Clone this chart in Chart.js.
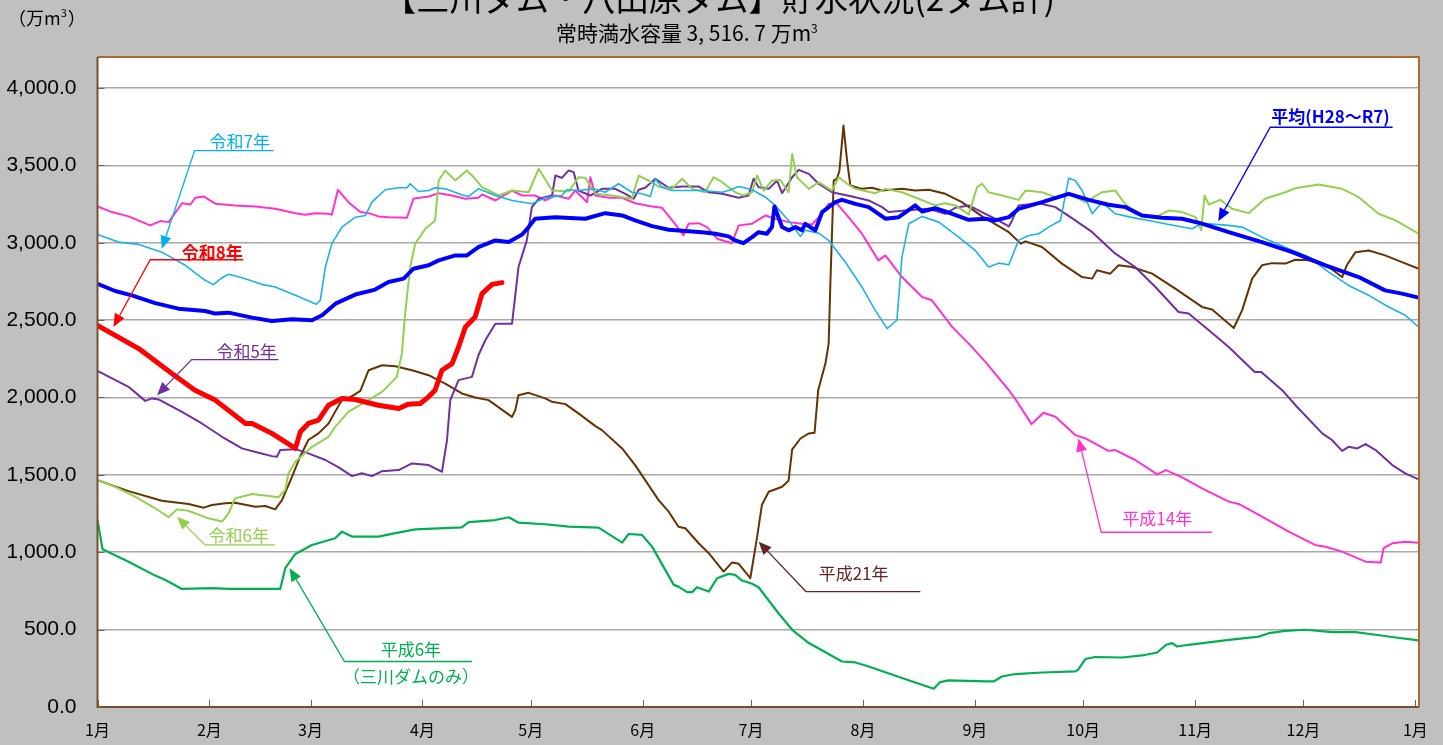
<!DOCTYPE html>
<html>
<head>
<meta charset="utf-8">
<script src="https://cdn.jsdelivr.net/npm/chart.js@4/dist/chart.umd.min.js"></script>
<style>
html,body{margin:0;padding:0;background:#c0c0c0;}
canvas{display:block;}
</style>
</head>
<body>
<canvas id="c" width="1443" height="745"></canvas>
<script>
// ---- category / tick data ----
const monthLabels = ['1月','2月','3月','4月','5月','6月','7月','8月','9月','10月','11月','12月','1月'];
const monthStartDays = [0,31,59,90,120,151,181,212,243,273,304,334,365];
const yTickValues = [0,500,1000,1500,2000,2500,3000,3500,4000];

// ---- series: [day of year, storage (万m3)] ----
const r8 = [[0,2466],[11.4,2316],[20.6,2155],[27,2047],[32.6,1983],[41,1832],[42.8,1832],[48.3,1768],[54.8,1671],[56.2,1778],[58.4,1832],[61.2,1853],[64,1950],[67.7,1994],[71.4,1987],[77.8,1950],[83.4,1929],[86.1,1957],[89.4,1961],[91.7,2004],[93.5,2047],[95.4,2176],[98.2,2219],[100,2326],[101.9,2455],[104.6,2520],[106.5,2671],[109.3,2731],[112,2742]];

const avg = [[0,2735],[4.9,2688],[9.5,2660],[16,2610],[22.4,2574],[29.8,2559],[32.6,2542],[36.3,2548],[42.8,2516],[48.3,2494],[53.9,2505],[59.4,2499],[62.2,2531],[65.9,2606],[71.4,2665],[76.9,2697],[80.6,2746],[84.8,2768],[87.5,2832],[91.7,2854],[94.5,2886],[99.1,2918],[102.3,2918],[105.5,2972],[110.2,3015],[113.9,3004],[117.6,3053],[119.4,3101],[121.2,3155],[126.8,3165],[135.1,3155],[140.6,3191],[145.3,3176],[148.9,3144],[153.6,3107],[158.2,3084],[162.8,3075],[167.4,3068],[171.1,3058],[174.8,3041],[176.6,3015],[178.9,2997],[181.3,3036],[183.1,3068],[185.4,3058],[186.8,3101],[187.5,3234],[189.6,3101],[191.4,3080],[193.3,3101],[195.1,3080],[196,3122],[198.8,3080],[200.7,3198],[204.3,3262],[206.2,3277],[209.9,3251],[213.6,3230],[218.2,3155],[221.9,3165],[226.5,3241],[228.4,3202],[232,3223],[236.7,3187],[241.3,3148],[245.9,3155],[248.6,3144],[252.4,3165],[255.1,3219],[261.6,3262],[269,3316],[274.5,3277],[280,3245],[284.7,3230],[289.3,3176],[294.8,3161],[300.4,3155],[305.9,3123],[313.3,3068],[322.5,3004],[330.9,2939],[340.1,2854],[349.3,2778],[356.6,2692],[361.3,2671],[365.9,2645]];

const r7 = [[0,3053],[5.8,3004],[11.4,2989],[17.8,2939],[24.3,2854],[29.8,2757],[32.1,2729],[34.5,2774],[36.3,2796],[40,2774],[45.5,2731],[49.2,2714],[54.8,2660],[60.6,2602],[61.7,2628],[63.1,2843],[64.9,2994],[67.7,3101],[71.4,3165],[74.2,3176],[76,3262],[79.7,3342],[83.4,3355],[85.7,3355],[86.6,3381],[88.9,3331],[91.7,3337],[93.5,3355],[96.3,3348],[100.9,3310],[102.8,3299],[105.5,3348],[110.2,3305],[114.8,3273],[120.3,3252],[124,3290],[128.6,3305],[130,3342],[133.2,3337],[137.4,3348],[140.6,3326],[144.3,3381],[148,3326],[150.8,3316],[153.1,3299],[154.5,3413],[156.3,3359],[159.1,3337],[167.4,3337],[173,3326],[174.8,3337],[177.6,3363],[181.3,3342],[185,3294],[187.7,3241],[191.4,3144],[194.7,3041],[196,3080],[199.7,3062],[202.5,3015],[207.1,2875],[211.7,2714],[215.4,2563],[218.7,2445],[221.4,2499],[222.8,2907],[224.7,3123],[228.4,3170],[233,3133],[238.5,3036],[243.1,2950],[246.8,2843],[249.6,2868],[252.4,2858],[255.1,3015],[257.9,3047],[260.7,3058],[263.4,3101],[266.7,3144],[269,3417],[270.8,3402],[272.7,3337],[275.5,3187],[278.2,3262],[281.9,3187],[287.4,3159],[291.1,3144],[296.7,3118],[303.2,3090],[305.9,3126],[313.3,3112],[317,3101],[322.5,3036],[329.9,2961],[335.5,2907],[341,2810],[346.5,2724],[352.1,2660],[357.6,2585],[362.2,2531],[365.9,2456]];

const r6 = [[0,1466],[4.9,1423],[10.4,1359],[16,1284],[19.7,1226],[22,1277],[25.2,1268],[30.7,1219],[34.5,1198],[36.3,1252],[38.1,1348],[42.8,1376],[47.4,1363],[50.1,1355],[52,1402],[52.9,1510],[54.8,1585],[59.4,1681],[64,1746],[65.8,1810],[69.5,1907],[74.2,1972],[78.8,2036],[82.9,2133],[84.3,2284],[85.2,2542],[86.6,2843],[88,2994],[90.8,3090],[93.5,3144],[94.5,3402],[96.3,3467],[99.1,3402],[102.3,3467],[104.6,3413],[106.5,3359],[111.1,3305],[114.8,3337],[119.4,3326],[122.2,3478],[125.9,3337],[130.5,3331],[133.2,3423],[135.1,3419],[137.9,3316],[142.5,3305],[148,3284],[149.9,3434],[152.6,3402],[155.4,3363],[159.1,3348],[161.9,3413],[164.7,3348],[168.3,3326],[170.6,3423],[173,3391],[176.6,3326],[178.9,3305],[181.3,3326],[182.7,3434],[184.5,3337],[186.8,3402],[189.1,3406],[191.4,3326],[192.4,3574],[193.7,3423],[197,3348],[199.7,3391],[203.4,3337],[205.3,3423],[207.6,3381],[209.9,3348],[215.4,3320],[218.2,3348],[222.8,3326],[227.4,3284],[232,3241],[234.8,3255],[237.6,3241],[241.3,3183],[243.6,3359],[245,3381],[246.8,3326],[250.5,3305],[255.1,3277],[257,3337],[261.6,3326],[265.3,3294],[269,3316],[273.6,3262],[278.2,3326],[281.9,3337],[284.2,3262],[287.4,3187],[293,3165],[296.7,3208],[300.4,3198],[304.1,3165],[305.7,3080],[306.6,3305],[307.8,3247],[311,3277],[314.2,3219],[318.8,3191],[323.4,3284],[329,3326],[331.7,3352],[338.2,3376],[344.7,3348],[349.3,3294],[354.8,3187],[359.5,3144],[365.9,3058]];

const r5 = [[0,2172],[8.6,2069],[13.2,1978],[15.1,1994],[16.9,1987],[23.4,1907],[28.9,1832],[34.5,1746],[40,1671],[44.6,1643],[48.3,1621],[49.7,1617],[50.6,1660],[54.8,1666],[58.4,1639],[63.1,1596],[66.8,1548],[70.5,1492],[73.2,1510],[76,1492],[78.8,1524],[83.4,1531],[87.1,1574],[91.7,1563],[95.4,1520],[96.8,1725],[97.7,1983],[100,2112],[103.7,2133],[105.5,2273],[107.4,2370],[110.2,2477],[114.8,2477],[116.6,2843],[118.9,3015],[120.3,3230],[122.2,3284],[124,3294],[125.9,3305],[126.8,3434],[128.6,3419],[130.5,3467],[131.9,3456],[133.2,3337],[136.5,3305],[139.7,3348],[143.4,3348],[146.2,3316],[148.5,3284],[149.9,3342],[151.7,3355],[154.5,3413],[158.2,3355],[161.9,3363],[166.5,3363],[169.3,3326],[173,3316],[177.6,3290],[180.3,3305],[181.7,3413],[183.1,3359],[185.9,3348],[188.2,3402],[189.6,3320],[192.4,3423],[194.2,3471],[197,3445],[199.7,3381],[203.4,3326],[209,3299],[213.6,3273],[217.3,3230],[219.1,3198],[223.7,3208],[230.2,3219],[234.8,3187],[237.6,3226],[241.3,3241],[245.9,3187],[248.6,3155],[252.4,3105],[253.3,3144],[255.1,3241],[260.7,3255],[265.3,3230],[270.8,3144],[275.5,3068],[281.9,2929],[287.4,2843],[293,2714],[299.4,2552],[302.2,2542],[307.8,2434],[313.3,2326],[320.5,2165],[322.3,2165],[328.1,2047],[331.8,1950],[339.2,1768],[341.9,1725],[344.7,1655],[346.5,1681],[348.9,1671],[351.2,1699],[354,1660],[358.6,1563],[362.2,1510],[365.9,1471]];

const h21 = [[0,1466],[8.6,1395],[17.8,1333],[25.2,1312],[29.4,1288],[31.7,1305],[35.4,1316],[38.1,1320],[43.7,1294],[46.5,1299],[49.2,1277],[51.1,1337],[53.9,1488],[56.1,1617],[58.4,1725],[61.2,1768],[64,1832],[65.8,1907],[67.7,1983],[69.5,1994],[72.8,2043],[75.1,2176],[78.8,2208],[82.5,2202],[87.1,2176],[91.7,2144],[96.3,2090],[100.9,2026],[104.6,2000],[108.3,1983],[114.8,1875],[115.7,1918],[116.6,2015],[119.4,2030],[124,1994],[125.9,1972],[129.6,1957],[133.2,1897],[137.9,1815],[139.7,1789],[145.3,1671],[148.9,1563],[155.4,1337],[158.2,1262],[160.9,1165],[162.8,1155],[166.5,1058],[169.3,994],[173.4,875],[175.7,933],[177.6,925],[180.8,832],[182.7,1101],[184,1305],[185.9,1391],[189.6,1423],[191.4,1462],[192.4,1665],[194.7,1735],[197,1768],[198.6,1772],[199.6,2047],[201.6,2219],[202.5,2348],[203,2757],[203.9,3402],[204.8,3413],[205.5,3467],[206.6,3757],[207.6,3531],[208.5,3370],[211.7,3348],[214.5,3355],[217.3,3337],[222.8,3348],[226.5,3337],[230.2,3342],[234.8,3316],[239.4,3262],[245,3170],[247.7,3133],[252.4,3068],[255.7,2994],[257,3009],[261.6,2972],[267.1,2865],[272.7,2778],[275.5,2768],[276.8,2822],[280.5,2800],[282.8,2854],[286.5,2843],[292.1,2800],[298.5,2703],[305.9,2585],[308.7,2568],[314.7,2449],[317,2563],[319.8,2768],[322.5,2854],[325.3,2868],[329,2865],[331.7,2890],[335.5,2886],[341,2843],[344.7,2778],[346,2854],[348.4,2939],[352.1,2950],[356.6,2918],[361.3,2875],[365.9,2832]];

const h14 = [[0,3234],[4,3198],[8.6,3170],[14.6,3112],[17.4,3140],[19.7,3133],[23.4,3255],[25.7,3247],[27.1,3290],[29.4,3299],[32.6,3252],[38.1,3241],[43.7,3234],[49.2,3219],[54.8,3191],[57.5,3181],[60.3,3191],[64,3187],[64.9,3181],[66.6,3342],[69.5,3262],[72.8,3198],[75.1,3191],[77.8,3170],[80.6,3165],[85.7,3161],[87.5,3284],[91.7,3299],[94.5,3320],[98.2,3305],[101.9,3284],[105.5,3290],[106.5,3312],[110.2,3273],[114.8,3337],[117.6,3305],[121.2,3305],[124,3273],[126.8,3305],[130.5,3284],[132.3,3337],[135.6,3262],[136.5,3423],[137.9,3305],[141.6,3290],[145.3,3290],[148.9,3255],[153.6,3234],[156.3,3226],[159.9,3123],[162.3,3047],[163.7,3123],[166.5,3126],[168.8,3101],[171.6,3026],[175.7,2997],[177.6,3112],[181.3,3123],[185,3176],[187.7,3155],[191.4,3133],[195.1,3123],[197.9,3118],[200.7,3187],[202.5,3252],[204.8,3252],[208,3165],[211.7,3058],[216.3,2886],[218.2,2918],[222.8,2778],[225.6,2714],[228.4,2649],[231.1,2628],[236.7,2456],[241.3,2348],[245.9,2230],[252.4,2047],[254.2,1990],[258.7,1828],[262,1901],[265.3,1875],[270.8,1757],[273.6,1735],[280,1655],[281.9,1660],[287.4,1596],[293.5,1503],[295.9,1531],[300.4,1484],[305.9,1413],[313.3,1327],[316.1,1312],[322.5,1230],[329.9,1133],[337.2,1047],[340.1,1036],[344.7,1004],[351.2,939],[355.4,933],[356.2,1026],[358.6,1058],[362.2,1068],[365.9,1062]];

const h6 = [[0,1208],[1.4,1019],[8.6,939],[16,849],[18.8,821],[23.4,763],[31.7,768],[36.3,763],[50.6,763],[52,897],[54.8,989],[59.4,1047],[65.8,1090],[67.7,1133],[70.5,1101],[77.8,1101],[82.5,1123],[88,1148],[100.9,1161],[102.8,1194],[110.2,1208],[113.9,1226],[116.6,1191],[124,1181],[130.5,1165],[138.8,1159],[145.3,1062],[147.1,1118],[150.8,1112],[153.6,1036],[159.6,789],[160.9,778],[163.3,742],[164.7,742],[166,774],[169.3,746],[171.6,832],[174.8,860],[176.6,854],[178.5,817],[181.3,796],[183.1,774],[188.6,606],[192.4,499],[197,413],[206.2,294],[209.9,288],[213.6,262],[222.8,187],[231.6,118],[233.4,161],[235.7,172],[245.9,165],[248.2,165],[250.5,197],[254.2,213],[261.6,223],[270.8,230],[271.6,241],[273.6,310],[276.3,323],[283.8,320],[289.3,333],[293.5,352],[296,402],[297.6,413],[299,391],[302.2,402],[307.8,417],[313.3,434],[321.6,455],[324.4,477],[329,492],[334.5,499],[341.9,484],[348.4,484],[354,467],[359.5,449],[365.9,430]];

// ---- label callouts: [text lines], text centre (day, value), underline (day range, value), arrow tip (day, value)
const notes = [
  {lines:['令和7年'], color:'#00b0f0', bold:false, tc:[39.4,3656], ux:[26.9,48.8], uy:3595, tip:[17.8,2961]},
  {lines:['令和8年'], color:'#ff0000', bold:true,  tc:[31.8,2935], ux:[14.6,40.4], uy:2890, tip:[4.4,2456]},
  {lines:['令和5年'], color:'#7030a0', bold:false, tc:[41.3,2294], ux:[26.1,50.1], uy:2245, tip:[16.5,2015]},
  {lines:['令和6年'], color:'#92d050', bold:false, tc:[39.1,1107], ux:[29.8,49.2], uy:1047, tip:[22,1230]},
  {lines:['平成6年','（三川ダムのみ）'], color:'#00b050', bold:false, tc:[86.8,374], ux:[68.4,103.7], uy:294, tip:[53.2,897], line2:194},
  {lines:['平成21年'], color:'#632523', bold:false, tc:[209.4,860], ux:[196.2,227.9], uy:746, tip:[183.1,1068]},
  {lines:['平成14年'], color:'#ff33cc', bold:false, tc:[293.5,1219], ux:[278,308.7], uy:1129, tip:[271.7,1735]},
  {lines:['平均(H28～R7)'], color:'#0000ff', bold:true, tc:[341.5,3815], ux:[324.8,358.7], uy:3746, tip:[310.4,3139]}
];

const JP = '"Noto Sans CJK JP", "Noto Sans", sans-serif';
const toXY = arr => arr.map(p => ({x:p[0], y:p[1]}));

const bgPlugin = {
  id:'bg',
  beforeDraw(chart){
    const {ctx, chartArea:a} = chart;
    ctx.save();
    ctx.fillStyle = '#c0c0c0';
    ctx.fillRect(0,0,chart.width,chart.height);
    ctx.fillStyle = '#ffffff';
    ctx.fillRect(a.left,a.top,a.right-a.left,a.bottom-a.top);
    ctx.restore();
  }
};

const framePlugin = {
  id:'frame',
  afterDatasetsDraw(chart){
    const {ctx, chartArea:a, scales:{x,y}} = chart;
    ctx.save();
    ctx.strokeStyle = '#666';
    ctx.lineWidth = 1;
    monthStartDays.forEach(d=>{
      const px = Math.round(x.getPixelForValue(d))+0.5;
      ctx.beginPath(); ctx.moveTo(px,a.bottom); ctx.lineTo(px,a.bottom-7); ctx.stroke();
    });
    yTickValues.forEach(v=>{
      const py = Math.round(y.getPixelForValue(v))+0.5;
      ctx.beginPath(); ctx.moveTo(a.left,py); ctx.lineTo(a.left+7,py); ctx.stroke();
    });
    ctx.lineWidth = 2;
    ctx.strokeStyle = '#b06a2f';
    ctx.beginPath();
    ctx.moveTo(a.left,a.top); ctx.lineTo(a.right,a.top); ctx.lineTo(a.right,a.bottom);
    ctx.stroke();
    ctx.strokeStyle = '#7a4e2a';
    ctx.beginPath();
    ctx.moveTo(a.left,a.top); ctx.lineTo(a.left,a.bottom); ctx.lineTo(a.right,a.bottom);
    ctx.stroke();
    ctx.restore();
  }
};

const notePlugin = {
  id:'notes',
  afterDatasetsDraw(chart){
    const {ctx, scales:{x,y}} = chart;
    notes.forEach(n=>{
      ctx.save();
      ctx.strokeStyle = n.color; ctx.fillStyle = n.color; ctx.lineWidth = 1.3;
      const ux1 = x.getPixelForValue(n.ux[0]), ux2 = x.getPixelForValue(n.ux[1]);
      const uy = y.getPixelForValue(n.uy);
      const tx = x.getPixelForValue(n.tip[0]), ty = y.getPixelForValue(n.tip[1]);
      const ang = Math.atan2(ty-uy, tx-ux1);
      const L = 13, W = 5.5;
      const bx = tx - L*Math.cos(ang), by = ty - L*Math.sin(ang);
      ctx.beginPath();
      ctx.moveTo(ux2,uy); ctx.lineTo(ux1,uy); ctx.lineTo(bx,by);
      ctx.stroke();
      ctx.beginPath();
      ctx.moveTo(tx,ty);
      ctx.lineTo(bx + W*Math.sin(ang), by - W*Math.cos(ang));
      ctx.lineTo(bx - W*Math.sin(ang), by + W*Math.cos(ang));
      ctx.closePath(); ctx.fill();
      ctx.font = (n.bold ? 'bold ' : '') + '17px ' + JP;
      ctx.textAlign = 'center'; ctx.textBaseline = 'middle';
      ctx.fillText(n.lines[0], x.getPixelForValue(n.tc[0]), y.getPixelForValue(n.tc[1]));
      if (n.lines[1]) ctx.fillText(n.lines[1], x.getPixelForValue(n.tc[0]), y.getPixelForValue(n.line2));
      ctx.restore();
    });
  }
};

const titlePlugin = {
  id:'titles',
  afterDraw(chart){
    const ctx = chart.ctx;
    ctx.save();
    ctx.fillStyle = '#000';
    ctx.textBaseline = 'alphabetic';
    ctx.textAlign = 'center';
    ctx.font = '34px ' + JP;
    ctx.fillText('【三川ダム・八田原ダム】貯水状況(2ダム計)', 719, 11, 672);
    // subtitle
    ctx.font = '21px ' + JP;
    ctx.textAlign = 'left';
    const sub = '常時満水容量 3, 516. 7 万m';
    const w = ctx.measureText(sub).width;
    const sx = 687 - (w+7)/2;
    ctx.fillText(sub, sx, 41);
    ctx.font = '12px ' + JP;
    ctx.fillText('3', sx + w, 33);
    // unit label
    ctx.font = '18px ' + JP;
    const u1 = '（万m';
    ctx.fillText(u1, 8, 25);
    const uw = ctx.measureText(u1).width;
    ctx.font = '11px ' + JP;
    ctx.fillText('3', 8+uw, 17);
    ctx.font = '18px ' + JP;
    ctx.fillText('）', 8+uw+7, 25);
    ctx.restore();
  }
};

function ds(label, data, color, width){
  return {label, data: toXY(data), borderColor: color, backgroundColor: color,
    borderWidth: width, pointRadius: 0, tension: 0, fill: false, borderJoinStyle:'round', borderCapStyle:'round'};
}

new Chart(document.getElementById('c'), {
  type:'line',
  data:{
    datasets:[
      ds('令和8年', r8, '#ff0000', 5),
      ds('平均(H28～R7)', avg, '#0000ff', 4),
      ds('令和7年', r7, '#1ab2ea', 1.6),
      ds('令和6年', r6, '#92d050', 2),
      ds('令和5年', r5, '#7030a0', 2),
      ds('平成21年', h21, '#663300', 2),
      ds('平成14年', h14, '#ff33cc', 2),
      ds('平成6年', h6, '#00b050', 2.2)
    ]
  },
  options:{
    responsive:false,
    animation:false,
    devicePixelRatio:1,
    layout:{padding:{top:57, right:24, left:0, bottom:0}},
    plugins:{legend:{display:false}, tooltip:{enabled:false}, title:{display:false}},
    scales:{
      x:{
        type:'linear', min:0, max:366,
        afterBuildTicks: s => { s.ticks = monthStartDays.map(v=>({value:v})); },
        afterFit: s => { s.height = 38; },
        grid:{display:false, drawTicks:false},
        border:{display:false},
        ticks:{autoSkip:false, maxRotation:0, padding:13, color:'#000',
          font:{family:JP, size:16},
          callback:(v,i)=>monthLabels[i]}
      },
      y:{
        type:'linear', min:0, max:4200,
        afterBuildTicks: s => { s.ticks = yTickValues.map(v=>({value:v})); },
        afterFit: s => { s.width = 97.5; },
        grid:{color:'#a8a8a8', lineWidth:1.5, drawTicks:false},
        border:{display:false},
        ticks:{padding:21, color:'#000', font:{family:'"Liberation Sans", Arial, sans-serif', size:21},
          callback: v => v.toLocaleString('en-US',{minimumFractionDigits:1, maximumFractionDigits:1})}
      }
    }
  },
  plugins:[bgPlugin, framePlugin, notePlugin, titlePlugin]
});
</script>
</body>
</html>
